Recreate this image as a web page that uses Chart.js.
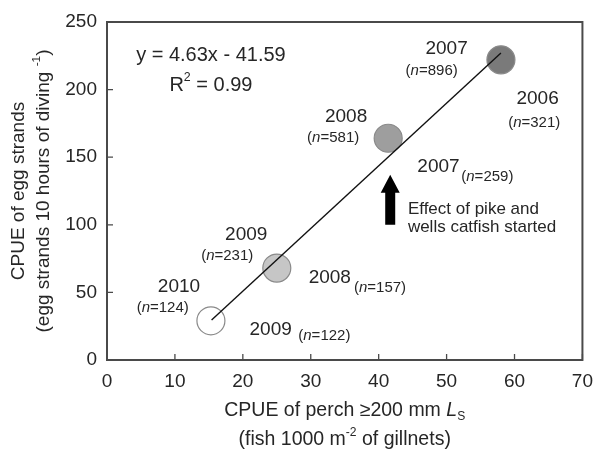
<!DOCTYPE html>
<html>
<head>
<meta charset="utf-8">
<script src="https://cdn.jsdelivr.net/npm/chart.js@4.4.0/dist/chart.umd.min.js"></script>
<style>
  body { margin: 0; background: #fff; }
</style>
</head>
<body>
<canvas id="chart" width="603" height="450"></canvas>
<script>
// points: perch CPUE (x) vs egg strand CPUE (y), one per dive year
const diveYears = ['2010', '2009', '2008', '2007'];
const diveN = [124, 231, 581, 896];
const netYears = ['2009', '2008', '2007', '2006'];
const netN = [122, 157, 259, 321];
const perchCpue = [15.3, 25.0, 41.4, 58.0];
const eggCpue = [29, 68, 164, 222];
const pointColors = ['#ffffff', '#c6c6c6', '#9e9e9e', '#7a7a7a'];

// regression line ends
const fitX = [15.4, 58.0];
const fitY = [29.6, 227];
const fitText = 'y = 4.63x - 41.59';
const r2Text = '0.99';

const xRange = [0, 70];
const yRange = [0, 250];

const FONT = '"Liberation Sans", Arial, sans-serif';
const INK = '#262626';

// where each label sits, in data units
const diveLabelPos = [
    { year: [10.6, 53.8], n: [8.2, 38.5] },
    { year: [20.5, 92.5], n: [17.7, 76.9] },
    { year: [35.2, 179.7], n: [33.3, 164.2] },
    { year: [50.0, 230], n: [47.8, 213.8] }
];
const netLabelPos = [
    { year: [24.1, 22.2], n: [32.0, 17.8] },
    { year: [32.8, 60.6], n: [40.2, 53.3] },
    { year: [48.8, 142.8], n: [56.0, 135.4] },
    { year: [63.4, 193], n: [62.9, 175.3] }
];

function drawRich(ctx, segs, x, y, size, align) {
    const parts = segs.map(s => {
        const sz = (s.sup || s.sub) ? size * 0.62 : size;
        const f = (s.italic ? 'italic ' : '') + sz + 'px ' + FONT;
        ctx.font = f;
        const dy = s.sup ? -size * 0.38 : (s.sub ? size * 0.28 : 0);
        return { t: s.t, f, w: ctx.measureText(s.t).width, dy };
    });
    const total = parts.reduce((a, p) => a + p.w, 0);
    let cx = align === 'left' ? x : (align === 'right' ? x - total : x - total / 2);
    ctx.textAlign = 'left';
    ctx.textBaseline = 'middle';
    parts.forEach(p => {
        ctx.font = p.f;
        ctx.fillText(p.t, cx, y + p.dy);
        cx += p.w;
    });
}

const nSegs = n => [{ t: '(' }, { t: 'n', italic: true }, { t: '=' + n + ')' }];

const annotations = {
    id: 'annotations',
    afterDraw(chart) {
        const { ctx, chartArea: a, scales: { x, y } } = chart;
        ctx.save();

        // frame and inward ticks
        ctx.strokeStyle = '#4a4a4a';
        ctx.lineWidth = 2;
        ctx.strokeRect(a.left, a.top, a.right - a.left, a.bottom - a.top);
        ctx.lineWidth = 1.3;
        ctx.beginPath();
        x.ticks.forEach(t => {
            const px = x.getPixelForValue(t.value);
            ctx.moveTo(px, a.bottom);
            ctx.lineTo(px, a.bottom - 6);
        });
        y.ticks.forEach(t => {
            const py = y.getPixelForValue(t.value);
            ctx.moveTo(a.left, py);
            ctx.lineTo(a.left + 6, py);
        });
        ctx.stroke();

        ctx.fillStyle = INK;

        // year / sample size labels
        diveYears.forEach((yr, i) => {
            const p = diveLabelPos[i];
            drawRich(ctx, [{ t: yr }], x.getPixelForValue(p.year[0]), y.getPixelForValue(p.year[1]), 19, 'center');
            drawRich(ctx, nSegs(diveN[i]), x.getPixelForValue(p.n[0]), y.getPixelForValue(p.n[1]), 15, 'center');
        });
        netYears.forEach((yr, i) => {
            const p = netLabelPos[i];
            drawRich(ctx, [{ t: yr }], x.getPixelForValue(p.year[0]), y.getPixelForValue(p.year[1]), 19, 'center');
            drawRich(ctx, nSegs(netN[i]), x.getPixelForValue(p.n[0]), y.getPixelForValue(p.n[1]), 15, 'center');
        });

        // equation
        drawRich(ctx, [{ t: fitText }], x.getPixelForValue(15.3), y.getPixelForValue(225.6), 20, 'center');
        drawRich(ctx, [{ t: 'R' }, { t: '2', sup: true }, { t: ' = ' + r2Text }],
            x.getPixelForValue(15.3), y.getPixelForValue(203.4), 20, 'center');

        // arrow
        const ax = x.getPixelForValue(41.7);
        const tip = y.getPixelForValue(137);
        const base = y.getPixelForValue(100);
        ctx.beginPath();
        ctx.moveTo(ax, tip);
        ctx.lineTo(ax + 9.5, tip + 18);
        ctx.lineTo(ax + 5, tip + 18);
        ctx.lineTo(ax + 5, base);
        ctx.lineTo(ax - 5, base);
        ctx.lineTo(ax - 5, tip + 18);
        ctx.lineTo(ax - 9.5, tip + 18);
        ctx.closePath();
        ctx.fillStyle = '#000';
        ctx.fill();

        ctx.fillStyle = INK;
        drawRich(ctx, [{ t: 'Effect of pike and' }], x.getPixelForValue(44.3), y.getPixelForValue(111.7), 17, 'left');
        drawRich(ctx, [{ t: 'wells catfish started' }], x.getPixelForValue(44.3), y.getPixelForValue(98.4), 17, 'left');

        // axis titles
        const cxTitle = (a.left + a.right) / 2;
        drawRich(ctx, [{ t: 'CPUE of perch \u2265200 mm ' }, { t: 'L', italic: true }, { t: 'S', sub: true }],
            cxTitle, 411, 19.5, 'center');
        drawRich(ctx, [{ t: '(fish 1000 m' }, { t: '-2', sup: true }, { t: ' of gillnets)' }],
            cxTitle, 440, 19.5, 'center');

        const cyTitle = (a.top + a.bottom) / 2;
        ctx.save();
        ctx.translate(19, cyTitle);
        ctx.rotate(-Math.PI / 2);
        drawRich(ctx, [{ t: 'CPUE of egg strands' }], 0, 0, 19, 'center');
        ctx.restore();
        ctx.save();
        ctx.translate(44, cyTitle);
        ctx.rotate(-Math.PI / 2);
        drawRich(ctx, [{ t: '(egg strands 10 hours of diving ' }, { t: '-1', sup: true }, { t: ')' }], 0, 0, 19, 'center');
        ctx.restore();

        ctx.restore();
    }
};

const ctx = document.getElementById('chart').getContext('2d');
new Chart(ctx, {
    type: 'scatter',
    data: {
        datasets: [
            {
                label: 'Regression',
                type: 'line',
                data: fitX.map((v, i) => ({ x: v, y: fitY[i] })),
                borderColor: '#111',
                borderWidth: 1.4,
                pointRadius: 0,
                fill: false,
                order: 1
            },
            {
                label: 'CPUE',
                data: perchCpue.map((v, i) => ({ x: v, y: eggCpue[i] })),
                backgroundColor: pointColors,
                borderColor: '#8a8a8a',
                borderWidth: 1.2,
                pointRadius: 14,
                order: 2
            }
        ]
    },
    options: {
        responsive: false,
        devicePixelRatio: 1,
        animation: false,
        layout: { padding: { left: 0, top: 22, right: 13, bottom: 0 } },
        plugins: {
            legend: { display: false },
            tooltip: { enabled: false }
        },
        scales: {
            x: {
                type: 'linear',
                min: xRange[0],
                max: xRange[1],
                ticks: { stepSize: 10, padding: 10, color: INK, font: { size: 19, family: FONT } },
                grid: { display: false, drawTicks: false },
                border: { display: false },
                afterFit: s => { s.height = 90; }
            },
            y: {
                min: yRange[0],
                max: yRange[1],
                ticks: { stepSize: 50, padding: 10, color: INK, font: { size: 19, family: FONT } },
                grid: { display: false, drawTicks: false },
                border: { display: false },
                afterFit: s => { s.width = 107; }
            }
        }
    },
    plugins: [annotations]
});
</script>
</body>
</html>
